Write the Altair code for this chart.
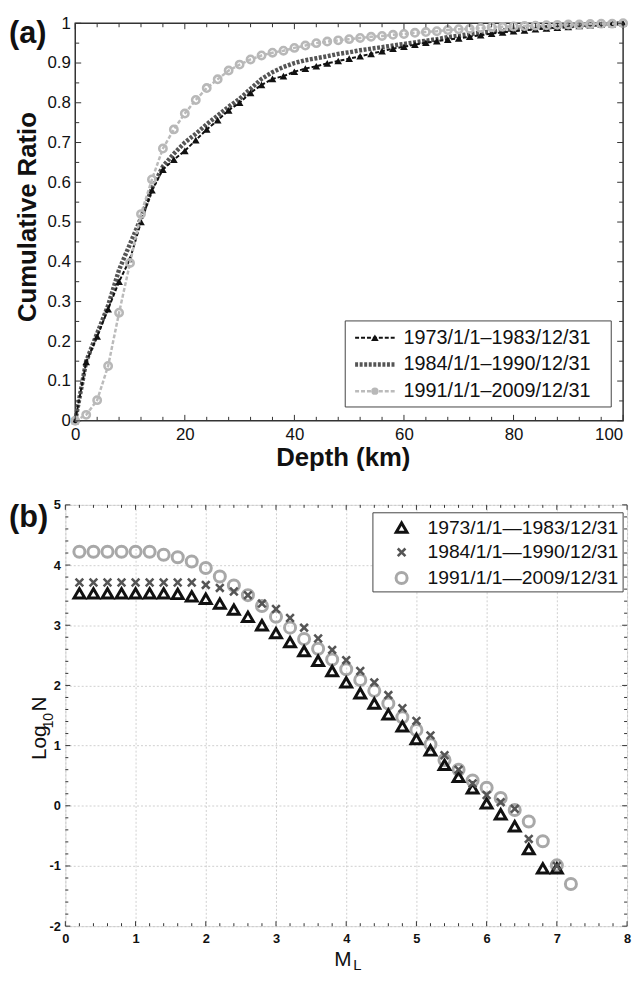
import altair as alt
import pandas as pd

FONT = "Liberation Sans"

# ---------------- panel (a) data ----------------
depth_km = list(range(0, 101, 2))
ratio_1973 = [0, .148, .212, .281, .35, .407, .50, .58, .632, .657, .679, .706, .733, .756, .781,
              .80, .825, .845, .86, .867, .878, .886, .892, .899, .905, .911, .917, .923, .93, .936,
              .941, .946, .951, .955, .959, .962, .966, .970, .974, .977, .980, .982, .985, .987,
              .989, .991, .993, .995, .997, .998, 1.0]
ratio_1984 = [0, .15, .22, .29, .38, .445, .51, .585, .64, .672, .70, .722, .746, .768, .79,
              .81, .835, .86, .877, .89, .90, .907, .912, .917, .923, .927, .932, .936, .94, .944,
              .948, .952, .956, .96, .965, .969, .973, .976, .979, .982, .985, .987, .989, .99,
              .991, .993, .994, .996, .997, .999, 1.0]
ratio_1991 = [0, .015, .052, .138, .272, .397, .52, .607, .685, .733, .773, .807, .837, .859, .881,
              .896, .909, .919, .926, .931, .938, .944, .95, .954, .957, .960, .963, .966, .968, .971,
              .973, .976, .978, .98, .983, .985, .986, .988, .99, .991, .992, .993, .994, .995,
              .996, .997, .997, .998, .999, .999, 1.0]
labels_a = ["1973/1/1\u20131983/12/31", "1984/1/1\u20131990/12/31", "1991/1/1\u20132009/12/31"]

# ---------------- panel (b) data ----------------
mag = [0.2, 0.4, 0.6, 0.8, 1.0, 1.2, 1.4, 1.6, 1.8, 2.0, 2.2, 2.4, 2.6, 2.8, 3.0, 3.2, 3.4, 3.6,
       3.8, 4.0, 4.2, 4.4, 4.6, 4.8, 5.0, 5.2, 5.4, 5.6, 5.8, 6.0, 6.2, 6.4, 6.6, 6.8, 7.0, 7.2]
logn_1973 = [3.53, 3.53, 3.53, 3.53, 3.53, 3.53, 3.53, 3.52, 3.48, 3.44, 3.36, 3.26, 3.14, 3.00,
             2.87, 2.72, 2.57, 2.41, 2.24, 2.05, 1.87, 1.70, 1.52, 1.32, 1.11, 0.92, 0.68, 0.48,
             0.29, 0.04, -0.14, -0.34, -0.72, -1.04, -1.04, None]
logn_1984 = [3.71, 3.71, 3.71, 3.71, 3.71, 3.71, 3.71, 3.71, 3.71, 3.67, 3.62, 3.56, 3.50, 3.36,
             3.27, 3.12, 2.96, 2.78, 2.59, 2.42, 2.24, 2.05, 1.84, 1.62, 1.41, 1.17, 0.84, 0.60,
             0.37, 0.18, 0.06, -0.05, -0.55, None, -1.0, None]
logn_1991 = [4.22, 4.22, 4.22, 4.22, 4.22, 4.22, 4.17, 4.13, 4.06, 3.95, 3.81, 3.66, 3.50, 3.32,
             3.14, 2.96, 2.77, 2.61, 2.43, 2.27, 2.09, 1.91, 1.70, 1.47, 1.26, 1.02, 0.76, 0.60,
             0.42, 0.30, 0.13, -0.07, -0.26, -0.59, -0.99, -1.30]
labels_b = ["1973/1/1\u20141983/12/31", "1984/1/1\u20141990/12/31", "1991/1/1\u20142009/12/31"]

# axis tick values / domains
XA_DOM = [0, 100]
YA_DOM = [0, 1]
XB_DOM = [0, 8]
YB_DOM = [-2, 5]
xa_major = [0, 20, 40, 60, 80, 100]
ya_major = [0, 0.1, 0.2, 0.3, 0.4, 0.5, 0.6, 0.7, 0.8, 0.9, 1]
xb_major = [0, 1, 2, 3, 4, 5, 6, 7, 8]
yb_major = [-2, -1, 0, 1, 2, 3, 4, 5]

SHIFT_A = 10                      # panel (a) frame starts 10 px right of panel (b)
FRAME_A_W, H_A = 554, 402
W_A = FRAME_A_W + SHIFT_A
W_B, H_B = 568, 426
one = pd.DataFrame({"k": [0]})
EDGE = "#333"


def minor(lo, hi, step, majors):
    n = int(round((hi - lo) / step))
    vals = [round(lo + i * step, 4) for i in range(n + 1)]
    return [v for v in vals if all(abs(v - m) > 1e-6 for m in majors)]


def frame_ticks(xmaj, xmin, ymaj, ymin, xs, ys, xax, yax, x0, W, H, Lmaj, Lmin):
    out = []
    for vals, L in ((xmaj, Lmaj), (xmin, Lmin)):
        b = alt.Chart(pd.DataFrame({"tx": vals})).mark_rule(color=EDGE, strokeWidth=1)
        X = alt.X("tx:Q", scale=xs, axis=xax)
        out.append(b.encode(x=X, y=alt.value(H - L), y2=alt.value(H)))
        out.append(b.encode(x=X, y=alt.value(0), y2=alt.value(L)))
    for vals, L in ((ymaj, Lmaj), (ymin, Lmin)):
        b = alt.Chart(pd.DataFrame({"ty": vals})).mark_rule(color=EDGE, strokeWidth=1)
        Y = alt.Y("ty:Q", scale=ys, axis=yax)
        out.append(b.encode(y=Y, x=alt.value(x0), x2=alt.value(x0 + L)))
        out.append(b.encode(y=Y, x=alt.value(W - L), x2=alt.value(W)))
    return out


def text(t, x, y, size, weight="normal", align="left", baseline="middle", angle=0, color="#111"):
    kw = dict(text=t, font=FONT, fontSize=size, fontWeight=weight, align=align,
              baseline=baseline, color=color)
    if angle:
        kw["angle"] = angle
    return alt.Chart(one).mark_text(**kw).encode(x=alt.value(x), y=alt.value(y))


# ================= panel (a) =================
xa_lo = XA_DOM[0] - SHIFT_A * (XA_DOM[1] - XA_DOM[0]) / FRAME_A_W
xa = alt.Scale(domain=[xa_lo, XA_DOM[1]], nice=False, zero=False)
ya = alt.Scale(domain=YA_DOM, nice=False, zero=False)
last_xa = xa_major[-1]
ax_xa = alt.Axis(values=xa_major, title=None, grid=False, ticks=False, domain=False,
                 labelFontSize=17, labelPadding=6, labelFlush=False, labelOverlap=False,
                 labelExpr=f"datum.value == {last_xa} ? '' : '' + datum.value",
                 labelColor="#111", labelFont=FONT)
ax_ya = alt.Axis(values=ya_major, title=None, grid=False, ticks=False, domain=False,
                 labelFontSize=17, labelPadding=5, labelOverlap=False, offset=-SHIFT_A,
                 labelExpr="'' + datum.value", labelColor="#111", labelFont=FONT)

da = {i: pd.DataFrame({"depth": depth_km, "ratio": r})
      for i, r in enumerate([ratio_1973, ratio_1984, ratio_1991])}


def enc_a(ch):
    return ch.encode(x=alt.X("depth:Q", scale=xa, axis=ax_xa),
                     y=alt.Y("ratio:Q", scale=ya, axis=ax_ya))


frame_a = alt.Chart(one).mark_rect(fillOpacity=0, stroke=EDGE, strokeWidth=1.5).encode(
    x=alt.X(datum=XA_DOM[0], scale=xa, axis=ax_xa), x2=alt.X2(datum=XA_DOM[1]),
    y=alt.Y(datum=YA_DOM[0], scale=ya, axis=ax_ya), y2=alt.Y2(datum=YA_DOM[1]))

line84 = enc_a(alt.Chart(da[1]).mark_line(color="#555", strokeWidth=4.5, strokeDash=[3, 1.6]))
line73 = enc_a(alt.Chart(da[0]).mark_line(color="#111", strokeWidth=2, strokeDash=[4, 2]))
pts73 = enc_a(alt.Chart(da[0]).mark_point(shape="triangle-up", filled=True, color="#111",
                                          size=60, opacity=1))
line91 = enc_a(alt.Chart(da[2]).mark_line(color="#bbb", strokeWidth=2.5, strokeDash=[4, 2]))
pts91 = enc_a(alt.Chart(da[2]).mark_point(shape="circle", filled=False, color="#b8b8b8",
                                          strokeWidth=2.6, size=55, opacity=1))

ticks_a = frame_ticks(xa_major, minor(0, 100, 4, xa_major), ya_major, minor(0, 1, 0.05, ya_major),
                      xa, ya, ax_xa, ax_ya, SHIFT_A, W_A, H_A, 6, 4)

S = SHIFT_A
leg_a_rows = [318, 345, 372]
leg_a = [alt.Chart(one).mark_rect(fill="white", stroke="#444", strokeWidth=1).encode(
    x=alt.value(S + 273), x2=alt.value(S + 542), y=alt.value(301), y2=alt.value(388))]
leg_a.append(alt.Chart(one).mark_rule(color="#111", strokeWidth=2, strokeDash=[4, 2]).encode(
    x=alt.value(S + 283), x2=alt.value(S + 323), y=alt.value(leg_a_rows[0])))
leg_a.append(alt.Chart(one).mark_point(shape="triangle-up", filled=True, color="#111", size=60,
                                       opacity=1).encode(x=alt.value(S + 303),
                                                         y=alt.value(leg_a_rows[0])))
leg_a.append(alt.Chart(one).mark_rule(color="#555", strokeWidth=4.5, strokeDash=[3, 1.6]).encode(
    x=alt.value(S + 283), x2=alt.value(S + 323), y=alt.value(leg_a_rows[1])))
leg_a.append(alt.Chart(one).mark_rule(color="#bbb", strokeWidth=2.5, strokeDash=[4, 2]).encode(
    x=alt.value(S + 283), x2=alt.value(S + 323), y=alt.value(leg_a_rows[2])))
leg_a.append(alt.Chart(one).mark_point(shape="circle", filled=True, color="#b8b8b8", size=55,
                                       opacity=1).encode(x=alt.value(S + 303),
                                                         y=alt.value(leg_a_rows[2])))
for lab, yy in zip(labels_a, leg_a_rows):
    leg_a.append(text(lab, S + 332, yy, 20))

texts_a = [
    text("(a)", -57, 20, 31, weight="bold", baseline="alphabetic"),
    text("Cumulative Ratio", -38, 196, 26, weight="bold", align="center", angle=270),
    text("Depth (km)", S + 271, H_A + 38, 26, weight="bold", align="center"),
    # last x label drawn right-aligned so the page does not overflow
    text(str(last_xa), W_A, H_A + 6, 17, align="right", baseline="top"),
]

panel_a = alt.layer(frame_a, line84, line73, pts73, line91, pts91, *ticks_a, *leg_a,
                    *texts_a).properties(width=W_A, height=H_A,
                                         view=alt.ViewBackground(stroke="transparent"))

# ================= panel (b) =================
xb = alt.Scale(domain=XB_DOM, nice=False, zero=False)
yb = alt.Scale(domain=YB_DOM, nice=False, zero=False)
grid_kw = dict(grid=True, gridColor="#c4c4c4", gridDash=[2, 2], gridWidth=0.8)
ax_xb = alt.Axis(values=xb_major, title=None, ticks=False, domain=False, labelFontSize=13,
                 labelFontWeight="bold", labelPadding=7, labelFlush=False, labelOverlap=False,
                 labelColor="#111", labelFont=FONT, **grid_kw)
ax_yb = alt.Axis(values=yb_major, title=None, ticks=False, domain=False, labelFontSize=13,
                 labelFontWeight="bold", labelPadding=5, labelOverlap=False,
                 labelExpr="'' + datum.value", labelColor="#111", labelFont=FONT, **grid_kw)

db = {}
for i, s in enumerate([logn_1973, logn_1984, logn_1991]):
    db[i] = pd.DataFrame({"m": mag, "logn": s}).dropna()


def enc_b(ch):
    return ch.encode(x=alt.X("m:Q", scale=xb, axis=ax_xb),
                     y=alt.Y("logn:Q", scale=yb, axis=ax_yb))


XSHAPE = "M-1,-1L1,1M-1,1L1,-1"
circ = enc_b(alt.Chart(db[2]).mark_point(shape="circle", filled=False, color="#a8a8a8",
                                         strokeWidth=3, size=125, opacity=1))
tri = enc_b(alt.Chart(db[0]).mark_point(shape="triangle-up", filled=False, color="#111",
                                        strokeWidth=3, size=120, opacity=1))
xs_ = enc_b(alt.Chart(db[1]).mark_point(shape=XSHAPE, filled=False, color="#555",
                                        strokeWidth=2.6, size=60, opacity=1))

ticks_b = frame_ticks(xb_major, minor(0, 8, 0.2, xb_major), yb_major, minor(-2, 5, 0.2, yb_major),
                      xb, yb, ax_xb, ax_yb, 0, W_B, H_B, 5, 3)

leg_b_rows = [23, 48, 74]
leg_b = [alt.Chart(one).mark_rect(fill="white", stroke="#444", strokeWidth=1).encode(
    x=alt.value(311), x2=alt.value(564), y=alt.value(8), y2=alt.value(88))]
leg_b.append(alt.Chart(one).mark_point(shape="triangle-up", filled=False, color="#111",
                                       strokeWidth=3, size=120, opacity=1).encode(
    x=alt.value(340), y=alt.value(leg_b_rows[0])))
leg_b.append(alt.Chart(one).mark_point(shape=XSHAPE, filled=False, color="#555",
                                       strokeWidth=2.6, size=60, opacity=1).encode(
    x=alt.value(340), y=alt.value(leg_b_rows[1])))
leg_b.append(alt.Chart(one).mark_point(shape="circle", filled=False, color="#a8a8a8",
                                       strokeWidth=3, size=125, opacity=1).encode(
    x=alt.value(340), y=alt.value(leg_b_rows[2])))
# right-anchored so the text's measured extent never pushes the page wider
for lab, yy in zip(labels_b, leg_b_rows):
    leg_b.append(text(lab, 559, yy, 19.5, align="right"))

texts_b = [
    text("(b)", -57, 22, 31, weight="bold", baseline="alphabetic"),
    text("Log", -20, 258, 21, baseline="alphabetic", angle=270),
    text("10", -13, 226, 14, baseline="alphabetic", angle=270),
    text("N", -20, 209, 21, baseline="alphabetic", angle=270),
    text("M", 272, H_B + 40, 21, baseline="alphabetic"),
    text("L", 291, H_B + 44, 15, baseline="alphabetic"),
]

panel_b = alt.layer(circ, tri, xs_, *ticks_b, *leg_b, *texts_b).properties(width=W_B, height=H_B)

chart = alt.vconcat(panel_a, panel_b, spacing=26).properties(
    padding={"left": 0, "top": 0, "right": 0, "bottom": 0}
).configure_view(stroke=EDGE, strokeWidth=1.5).configure(background="white")

chart.save("out.html", embed_options={"renderer": "svg", "actions": False})
